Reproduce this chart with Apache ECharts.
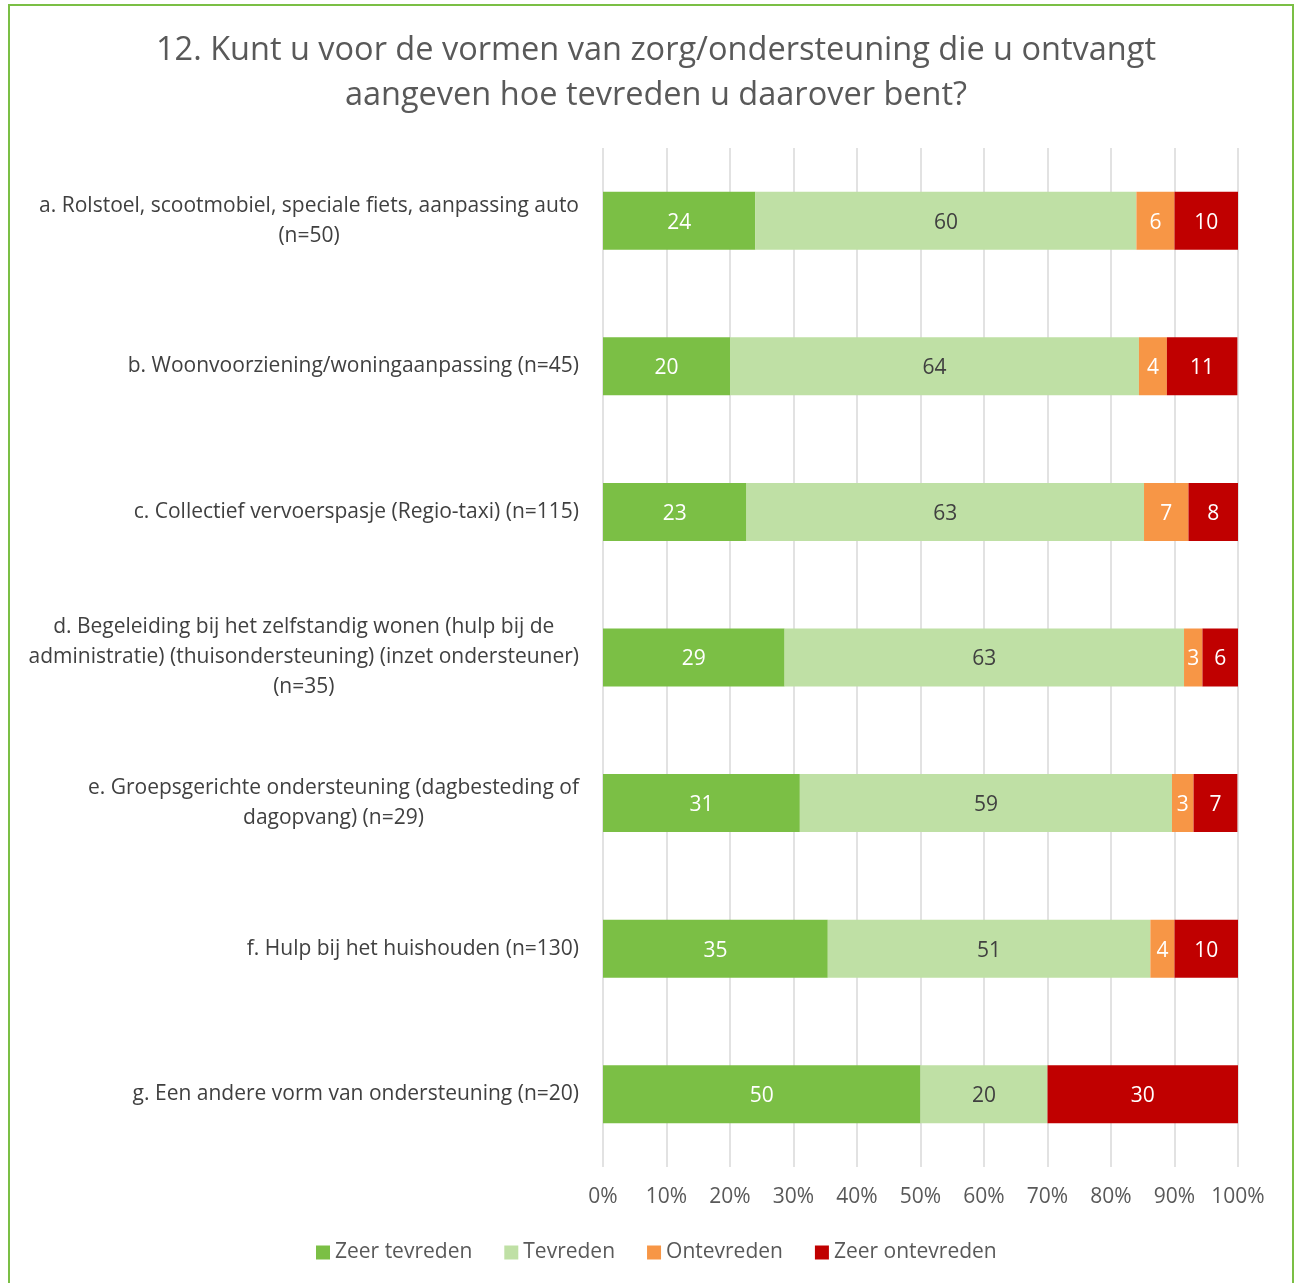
<!DOCTYPE html>
<html>
<head>
<meta charset="utf-8">
<script src="https://cdn.jsdelivr.net/npm/echarts@6/dist/echarts.min.js"></script>
<style>
html,body{margin:0;padding:0;background:#fff;}
#chart{width:1297px;height:1283px;}
</style>
</head>
<body>
<div id="chart"></div>
<script>
const categories = [
  "a. Rolstoel, scootmobiel, speciale fiets, aanpassing auto\n(n=50)",
  "b. Woonvoorziening/woningaanpassing (n=45)",
  "c. Collectief vervoerspasje (Regio-taxi) (n=115)",
  "d. Begeleiding bij het zelfstandig wonen (hulp bij de\nadministratie) (thuisondersteuning) (inzet ondersteuner)\n(n=35)",
  "e. Groepsgerichte ondersteuning (dagbesteding of\ndagopvang) (n=29)",
  "f. Hulp bij het huishouden (n=130)",
  "g. Een andere vorm van ondersteuning (n=20)"
];
const seriesNames = ["Zeer tevreden", "Tevreden", "Ontevreden", "Zeer ontevreden"];
const zeerTevreden   = [24.0, 20.0, 22.6, 28.6, 31.0, 35.4, 50.0];
const tevreden       = [60.0, 64.4, 62.6, 62.9, 58.6, 50.8, 20.0];
const ontevreden     = [6.0, 4.4, 7.0, 2.9, 3.4, 3.8, 0.0];
const zeerOntevreden = [10.0, 11.1, 7.8, 5.7, 6.9, 10.0, 30.0];
const colors = ["#7BBF45", "#BFE0A5", "#F79646", "#C00000"];
const labelColors = ["#ffffff", "#404040", "#ffffff", "#ffffff"];

const FONT = "Open Sans";
const values = [zeerTevreden, tevreden, ontevreden, zeerOntevreden];

const chart = echarts.init(document.getElementById('chart'));
chart.setOption({
  backgroundColor: '#ffffff',
  animation: false,
  color: colors,
  title: {
    text: "12. Kunt u voor de vormen van zorg/ondersteuning die u ontvangt\naangeven hoe tevreden u daarover bent?",
    left: 651, top: 23, textAlign: 'center',
    textStyle: { fontFamily: FONT, fontSize: 32.5, fontWeight: 'normal', color: '#595959', lineHeight: 45 }
  },
  graphic: [{
    type: 'rect', shape: { x: 9, y: 5, width: 1284, height: 1290 },
    style: { fill: 'none', stroke: '#7BBF45', lineWidth: 2 }, silent: true
  }],
  legend: {
    bottom: 15, left: 311, itemWidth: 14, itemHeight: 14, itemGap: 32,
    icon: 'rect',
    textStyle: { fontFamily: FONT, fontSize: 21, color: '#595959' },
    data: seriesNames
  },
  grid: { left: 603, right: 59, top: 148, height: 1019, containLabel: false },
  xAxis: {
    type: 'value', min: 0, max: 100, interval: 10,
    axisLine: { show: false }, axisTick: { show: false },
    splitLine: { show: true, lineStyle: { color: '#D9D9D9', width: 1.5 } },
    axisLabel: { formatter: '{value}%', fontFamily: FONT, fontSize: 21, color: '#595959', margin: 20 }
  },
  yAxis: {
    type: 'category', inverse: true, data: categories,
    axisLine: { show: false }, axisTick: { show: false },
    axisLabel: {
      fontFamily: FONT, fontSize: 21, color: '#404040', margin: 24, align: 'right', lineHeight: 30,
      formatter: v => v.split('\n').map(l => '{c|' + l + '}').join('\n'),
      rich: { c: { align: 'center', fontFamily: FONT, fontSize: 21, color: '#404040', lineHeight: 30 } }
    }
  },
  series: seriesNames.map((name, i) => ({
    name, type: 'bar', stack: 'total', barWidth: 58,
    data: values[i],
    itemStyle: { color: colors[i] },
    label: {
      show: true, position: 'inside', color: labelColors[i],
      fontFamily: FONT, fontSize: 21, offset: [0, 2],
      formatter: p => p.value > 0 ? String(Math.round(p.value)) : ''
    }
  }))
});
</script>
</body>
</html>
